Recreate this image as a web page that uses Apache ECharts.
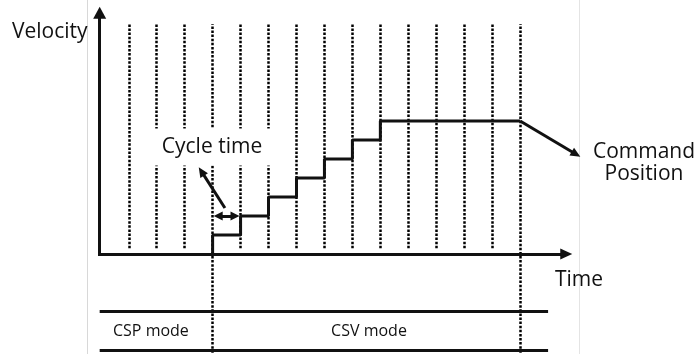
<!DOCTYPE html>
<html>
<head>
<meta charset="utf-8">
<title>Velocity / Time</title>
<script src="https://cdn.jsdelivr.net/npm/echarts@6/dist/echarts.min.js"></script>
<style>
  html, body { margin: 0; padding: 0; background: #fff; }
  #chart { width: 698px; height: 354px; }
</style>
</head>
<body>
<div id="chart"></div>
<script>
// cycle boundaries (dotted lines), in cycle units
const cycleMarks = [0, 1, 2, 3, 4, 5, 6, 7, 8, 9, 10, 11, 12, 13, 14]
// the two boundaries that run down through the mode band
const modeBounds = [3, 14]
// command velocity: one step per cycle after CSV starts
const stepTimes = [3, 3, 4, 5, 6, 7, 8, 9, 14]
const stepLevels = [0, 1, 2, 3, 4, 5, 6, 7, 7]
const modeLabels = ['CSP mode', 'CSV mode']

const FONT = '"Open Sans", "Noto Sans", sans-serif'
const ink = '#111'

var myChart = echarts.init(document.getElementById('chart'))

// dotted cycle lines
var dotLines = cycleMarks.map(c => {
  var bottom = modeBounds.indexOf(c) >= 0 ? -5.2 : 0.3
  return [{ coord: [c, bottom] }, { coord: [c, 12.1] }]
})

function arrowLine (from, to, sym, size) {
  return [
    { coord: from, symbol: sym[0], symbolSize: size },
    { coord: to, symbol: sym[1], symbolSize: size }
  ]
}

var option = {
  animation: false,
  grid: { left: 98, right: 94, top: 7, bottom: 1.2, containLabel: false },
  xAxis: { type: 'value', min: -1.1, max: 17, show: false },
  yAxis: { type: 'value', min: -5.2, max: 13, show: false },
  series: [
    {
      // dotted cycle grid
      type: 'line',
      data: [],
      silent: true,
      markLine: {
        silent: true,
        symbol: 'none',
        label: { show: false },
        lineStyle: { color: '#000', width: 2.5, type: [2.5, 1.6] },
        data: dotLines
      }
    },
    {
      // axes, mode band and annotation arrows
      type: 'line',
      data: [],
      silent: true,
      markLine: {
        silent: true,
        label: { show: false },
        lineStyle: { color: ink, width: 3, type: 'solid' },
        data: [
          arrowLine([-1.04, -0.08], [-1.04, 12.7], ['none', 'triangle'], [13, 12]),
          arrowLine([-1.1, 0], [15.65, 0], ['none', 'triangle'], [11, 12]),
          arrowLine([-1.04, -3], [15, -3], ['none', 'none'], 0),
          arrowLine([-1.04, -5.05], [15, -5.05], ['none', 'none'], 0),
          arrowLine([14, 7], [16.0, 5.25], ['none', 'triangle'], [9, 10]),
          arrowLine([3.44, 2.42], [2.6, 4.35], ['none', 'triangle'], [9, 10]),
          arrowLine([3.2, 2], [3.8, 2], ['triangle', 'triangle'], [9, 9])
        ]
      }
    },
    {
      name: 'Command Position',
      type: 'line',
      step: 'end',
      symbol: 'none',
      silent: true,
      data: stepTimes.map((t, i) => [t, stepLevels[i]]),
      lineStyle: { color: ink, width: 3 },
      z: 5
    }
  ],
  graphic: [
    // image edge lines
    { type: 'line', shape: { x1: 87.5, y1: 0, x2: 87.5, y2: 354 }, style: { stroke: '#d8d8d8', lineWidth: 1 } },
    { type: 'line', shape: { x1: 579.5, y1: 0, x2: 579.5, y2: 354 }, style: { stroke: '#e4e4e4', lineWidth: 1 } },
    { type: 'text', x: 12, y: 32, style: { text: 'Velocity', font: '21px ' + FONT, fill: ink, textVerticalAlign: 'middle' } },
    { type: 'text', x: 555, y: 280, style: { text: 'Time', font: '21px ' + FONT, fill: ink, textVerticalAlign: 'middle' } },
    {
      type: 'text', x: 212, y: 147, z: 100,
      style: {
        text: 'Cycle time', font: '21px ' + FONT, fill: ink,
        textAlign: 'center', textVerticalAlign: 'middle',
        backgroundColor: '#fff', padding: [8, 17]
      }
    },
    { type: 'text', x: 644, y: 152, style: { text: 'Command', font: '21px ' + FONT, fill: ink, textAlign: 'center', textVerticalAlign: 'middle' } },
    { type: 'text', x: 644, y: 174, style: { text: 'Position', font: '21px ' + FONT, fill: ink, textAlign: 'center', textVerticalAlign: 'middle' } },
    { type: 'text', x: 113, y: 331, style: { text: modeLabels[0], font: '16px ' + FONT, fill: ink, textVerticalAlign: 'middle' } },
    { type: 'text', x: 369, y: 331, style: { text: modeLabels[1], font: '16px ' + FONT, fill: ink, textAlign: 'center', textVerticalAlign: 'middle' } }
  ]
}
myChart.setOption(option)
</script>
</body>
</html>
